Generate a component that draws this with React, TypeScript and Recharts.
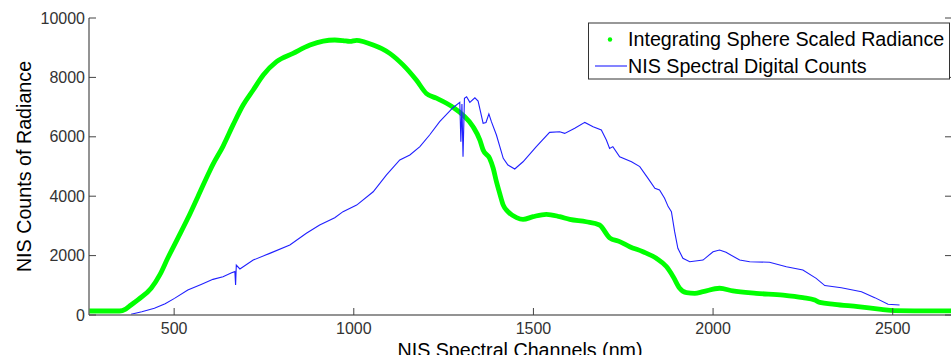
import React from 'react';
import { LineChart, Line, XAxis, YAxis } from 'recharts';

const greenNm = [263, 300, 348, 365, 380, 400, 436, 460, 482, 510, 538, 566, 599, 608, 636, 664, 692, 720, 748, 785, 831, 878, 915, 947, 970, 989, 1008, 1030, 1054, 1078, 1100, 1137, 1174, 1202, 1230, 1258, 1278, 1304, 1332, 1351, 1360, 1378, 1388, 1397, 1406, 1416, 1429, 1453, 1471, 1499, 1536, 1573, 1601, 1647, 1684, 1712, 1740, 1768, 1805, 1842, 1870, 1889, 1907, 1926, 1949, 1972, 2018, 2055, 2120, 2195, 2250, 2283, 2297, 2338, 2403, 2468, 2505, 2560, 2620, 2665];
const greenVal = [135, 135, 135, 200, 337, 520, 900, 1350, 1910, 2580, 3255, 3985, 4850, 5070, 5680, 6400, 7070, 7575, 8080, 8530, 8810, 9090, 9225, 9260, 9240, 9210, 9250, 9190, 9090, 8970, 8810, 8420, 7910, 7460, 7300, 7130, 6980, 6730, 6340, 5890, 5555, 5275, 4940, 4490, 4100, 3700, 3480, 3280, 3220, 3310, 3390, 3310, 3220, 3140, 3030, 2600, 2470, 2300, 2130, 1910, 1630, 1290, 900, 750, 730, 785, 900, 810, 730, 670, 585, 505, 425, 360, 280, 190, 145, 140, 140, 140];

const blueNm = [380, 410, 445, 475, 501, 538, 575, 608, 636, 660, 669, 671, 673, 683, 720, 766, 822, 868, 905, 947, 970, 1008, 1054, 1091, 1128, 1156, 1184, 1211, 1239, 1276, 1295, 1298, 1301, 1304, 1308, 1314, 1323, 1337, 1346, 1360, 1368, 1376, 1383, 1397, 1416, 1429, 1448, 1471, 1508, 1545, 1573, 1587, 1615, 1643, 1666, 1689, 1703, 1712, 1721, 1740, 1773, 1796, 1819, 1838, 1851, 1865, 1875, 1884, 1893, 1902, 1916, 1935, 1972, 2000, 2018, 2036, 2074, 2102, 2157, 2204, 2250, 2287, 2311, 2357, 2413, 2450, 2487, 2519];
const blueVal = [25, 110, 225, 380, 560, 840, 1030, 1200, 1290, 1420, 1460, 1010, 1680, 1550, 1850, 2075, 2355, 2750, 3030, 3275, 3480, 3700, 4150, 4715, 5220, 5390, 5670, 6060, 6510, 6980, 7160, 5835, 7100, 5330, 7300, 7350, 7160, 7315, 7205, 6455, 6480, 6770, 6510, 6060, 5275, 5050, 4915, 5160, 5670, 6150, 6170, 6115, 6285, 6485, 6340, 6230, 5890, 5610, 5670, 5330, 5160, 4995, 4600, 4265, 4210, 3930, 3650, 3480, 2805, 2245, 1910, 1795, 1850, 2130, 2190, 2110, 1850, 1795, 1775, 1625, 1515, 1235, 990, 920, 785, 585, 360, 335];

const xTicks = [500, 1000, 1500, 2000, 2500];
const yTicks = [0, 2000, 4000, 6000, 8000, 10000];
const xDomain = [263, 2665];
const yDomain = [0, 10000];

const seriesNames = ['Integrating Sphere Scaled Radiance', 'NIS Spectral Digital Counts'];
const xLabel = 'NIS Spectral Channels (nm)';
const yLabel = 'NIS Counts of Radiance';

const greenData = greenNm.map((x, i) => ({ x, y: greenVal[i] }));
const blueData = blueNm.map((x, i) => ({ x, y: blueVal[i] }));

const FONT = '"Liberation Sans", Arial, Helvetica, sans-serif';
const AXIS = '#6f6f6f';
const TICK = '#444';

const BottomTick = (p: any) => (
  <g>
    <line x1={p.x} x2={p.x} y1={p.y} y2={p.y - 7} stroke={TICK} strokeWidth={1} />
    <text x={p.x} y={p.y + 18.5} textAnchor="middle" fontSize={16} fill="#333" fontFamily={FONT}>
      {p.payload.value}
    </text>
  </g>
);
const TopTick = (p: any) => (
  <line x1={p.x} x2={p.x} y1={p.y} y2={p.y + 7} stroke={TICK} strokeWidth={1} />
);
const LeftTick = (p: any) => (
  <g>
    <line x1={p.x} x2={p.x + 7} y1={p.y} y2={p.y} stroke={TICK} strokeWidth={1} />
    <text x={p.x - 4} y={p.y + 5.5} textAnchor="end" fontSize={16} fill="#333" fontFamily={FONT}>
      {p.payload.value}
    </text>
  </g>
);
const RightTick = (p: any) => (
  <line x1={p.x - 7} x2={p.x} y1={p.y} y2={p.y} stroke={TICK} strokeWidth={1} />
);

export default function App() {
  return (
    <div style={{ position: 'absolute', left: 0, top: 0, width: 951, height: 355, overflow: 'hidden', background: '#fff' }}>
      <LineChart width={960} height={355} margin={{ top: 18, right: 0, bottom: 0, left: 0 }}>
        <XAxis xAxisId="b" type="number" dataKey="x" domain={xDomain} ticks={xTicks} orientation="bottom" height={40}
          tickSize={0} tickMargin={0} tickLine={false} tick={<BottomTick />} axisLine={{ stroke: AXIS, strokeWidth: 1.5 }} allowDataOverflow />
        <XAxis xAxisId="t" type="number" dataKey="x" domain={xDomain} ticks={xTicks} orientation="top" height={0}
          tickSize={0} tickMargin={0} tickLine={false} tick={<TopTick />} axisLine={{ stroke: AXIS, strokeWidth: 1.5 }} allowDataOverflow />
        <YAxis yAxisId="l" type="number" domain={yDomain} ticks={yTicks} orientation="left" width={89}
          tickSize={0} tickMargin={0} tickLine={false} tick={<LeftTick />} axisLine={{ stroke: AXIS, strokeWidth: 1.5 }} allowDataOverflow />
        <YAxis yAxisId="r" type="number" domain={yDomain} ticks={yTicks} orientation="right" width={8}
          tickSize={0} tickMargin={0} tickLine={false} tick={<RightTick />} axisLine={{ stroke: AXIS, strokeWidth: 1.5 }} allowDataOverflow />
        <Line xAxisId="b" yAxisId="l" data={greenData} dataKey="y" type="monotone" stroke="#00ff00" strokeWidth={4.8}
          dot={false} activeDot={false} isAnimationActive={false} strokeLinejoin="round" />
        <Line xAxisId="b" yAxisId="l" data={blueData} dataKey="y" type="linear" stroke="#2020ff" strokeWidth={1.1}
          dot={false} activeDot={false} isAnimationActive={false} />
      </LineChart>
      <svg width={951} height={355} style={{ position: 'absolute', left: 0, top: 0, pointerEvents: 'none' }}>
        <text x={31} y={166.5} transform="rotate(-90, 31, 166.5)" textAnchor="middle" fontSize={19.7} fill="#000" fontFamily={FONT}>
          {yLabel}
        </text>
        <text x={520} y={357} textAnchor="middle" fontSize={19.7} fill="#000" fontFamily={FONT}>
          {xLabel}
        </text>
        <rect x={588.5} y={23} width={361} height={56} fill="#fff" stroke="#333" strokeWidth={1} />
        <circle cx={610} cy={39.5} r={2.2} fill="#00ff00" />
        <line x1={595} x2={627} y1={66} y2={66} stroke="#2020ff" strokeWidth={1.1} />
        <text x={628} y={46} fontSize={19.7} fill="#000" fontFamily={FONT}>{seriesNames[0]}</text>
        <text x={628} y={72.5} fontSize={19.7} fill="#000" fontFamily={FONT}>{seriesNames[1]}</text>
      </svg>
    </div>
  );
}
